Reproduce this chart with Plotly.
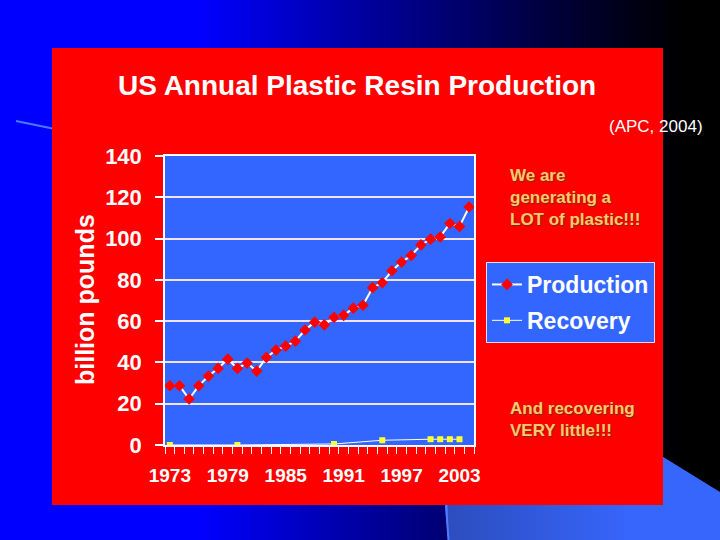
import plotly.graph_objects as go

# ---- data ----
years = list(range(1973, 2005))
production = [28.7, 28.7, 22.3, 28.7, 33.4, 37.1, 41.6, 37.1, 39.7, 35.8,
              42.4, 46.0, 47.9, 50.3, 55.7, 59.5, 58.2, 61.8, 62.8, 66.3,
              67.7, 76.2, 78.6, 84.4, 88.6, 91.8, 96.9, 99.7, 100.8, 107.3,
              105.9, 115.3]
recovery_years = [1973, 1980, 1990, 1995, 2000, 2001, 2002, 2003]
recovery_vals = [0.0, 0.0, 0.5, 2.3, 2.8, 2.8, 2.8, 2.8]
tick_years = [1973, 1979, 1985, 1991, 1997, 2003]
y_ticks = [0, 20, 40, 60, 80, 100, 120, 140]

W, H = 720, 540


def px(x):
    return x / W


def py(y):
    return 1 - y / H


fig = go.Figure()
fig.add_trace(go.Scatter(
    x=years, y=production, name="Production", mode="lines+markers",
    line=dict(color="white", width=2),
    marker=dict(symbol="diamond", color="#FF0000", size=9),
    legendgroup="a",
))
fig.add_trace(go.Scatter(
    x=recovery_years, y=recovery_vals, name="Recovery", mode="lines+markers",
    line=dict(color="white", width=1), connectgaps=True,
    marker=dict(symbol="square", color="#FFFF33", size=6),
    legendgroup="b",
))

shapes = []
# slide background: horizontal blue -> black gradient
for i in range(72):
    x0 = i * 10
    xc = x0 + 5
    if xc < 200:
        b = 255
    else:
        t = min(1.0, (xc - 200) / 490)
        b = int(255 * (1 - t) ** 1.15)
    shapes.append(dict(type="rect", xref="paper", yref="paper",
                       x0=px(x0), x1=px(min(720, x0 + 10.5)), y0=0, y1=1,
                       fillcolor=f"rgb(0,0,{b})", line=dict(width=0), layer="below"))
# lighter blue decorative shape bottom right
shapes.append(dict(type="path", xref="paper", yref="paper", layer="below",
                   path=(f"M {px(448)},{py(540)} L {px(445)},{py(505)} L {px(445)},{py(418)} "
                         f"L {px(600)},{py(418)} L {px(720)},{py(492)} L {px(720)},{py(540)} Z"),
                   fillcolor="rgb(55,102,252)", line=dict(width=0)))
# gradient on the bottom band of that shape
for i in range(24):
    x0 = 448 + i * 8
    t = min(1.0, i / 22)
    r = int(45 + 10 * t)
    g = int(78 + 24 * t)
    b = int(192 + 60 * t)
    shapes.append(dict(type="rect", xref="paper", yref="paper", layer="below",
                       x0=px(x0), x1=px(x0 + 8.5), y0=0, y1=py(505),
                       fillcolor=f"rgb({r},{g},{b})", line=dict(width=0)))
shapes.append(dict(type="line", xref="paper", yref="paper", layer="below",
                   x0=px(446), y0=py(505), x1=px(448.5), y1=0,
                   line=dict(color="#4d7cff", width=2)))
# thin line at left
shapes.append(dict(type="line", xref="paper", yref="paper", layer="below",
                   x0=px(16), y0=py(121), x1=px(55), y1=py(129),
                   line=dict(color="#4a78ff", width=2)))
# red panel
shapes.append(dict(type="rect", xref="paper", yref="paper", layer="below",
                   x0=px(52), x1=px(663), y0=py(505), y1=py(48),
                   fillcolor="#FF0000", line=dict(width=0)))
# plot area fill
shapes.append(dict(type="rect", xref="x domain", yref="y domain", layer="below",
                   x0=0, x1=1, y0=0, y1=1, fillcolor="#3366FF", line=dict(width=0)))

orange = "#FFC870"
shadow = "1px 1px 1px #7a2a00"
annotations = [
    dict(text="US Annual Plastic Resin Production", xref="paper", yref="paper",
         x=px(357), y=py(86), xanchor="center", yanchor="middle", showarrow=False,
         font=dict(family="Liberation Sans", size=28, color="white", weight="bold")),
    dict(text="(APC, 2004)", xref="paper", yref="paper",
         x=px(656), y=py(126), xanchor="center", yanchor="middle", showarrow=False,
         font=dict(family="Liberation Sans", size=17, color="white")),
    dict(text="billion pounds", xref="paper", yref="paper", textangle=-90,
         x=px(85), y=py(300), xanchor="center", yanchor="middle", showarrow=False,
         font=dict(family="Liberation Sans", size=25, color="white", weight="bold")),
    dict(text="We are<br>generating a<br>LOT of plastic!!!", xref="paper", yref="paper",
         x=px(508), y=py(164), xanchor="left", yanchor="top", align="left", showarrow=False,
         font=dict(family="Liberation Sans", size=17, color=orange, weight="bold", shadow=shadow)),
    dict(text="And recovering<br>VERY little!!!", xref="paper", yref="paper",
         x=px(508), y=py(397), xanchor="left", yanchor="top", align="left", showarrow=False,
         font=dict(family="Liberation Sans", size=17, color=orange, weight="bold", shadow=shadow)),
]

fig.update_layout(
    width=W, height=H, margin=dict(l=0, r=0, t=0, b=0, autoexpand=False),
    paper_bgcolor="#0000FF", plot_bgcolor="rgba(0,0,0,0)",
    shapes=shapes, annotations=annotations,
    showlegend=True,
    legend=dict(x=px(486), y=py(262), xanchor="left", yanchor="top",
                bgcolor="#3366FF", bordercolor="#EED8F0", borderwidth=1,
                font=dict(family="Liberation Sans", size=23, color="white", weight="bold"),
                itemwidth=30, tracegroupgap=3),
    xaxis=dict(domain=[px(165), px(474)], range=[1972.5, 2004.5], automargin=False,
               tickmode="array", tickvals=tick_years, ticktext=[str(t) for t in tick_years],
               ticks="", showgrid=False, zeroline=False,
               showline=True, linecolor="white", linewidth=1.5, mirror=True,
               tickfont=dict(family="Liberation Sans", size=19,
                             color="white", weight="bold"),
               ticklabelstandoff=12,
               minor=dict(tickmode="linear", tick0=1972.5, dtick=1, ticks="outside",
                          ticklen=7, tickcolor="white", tickwidth=1, showgrid=False)),
    yaxis=dict(domain=[py(445), py(156)], range=[0, 140], automargin=False,
               tickmode="array", tickvals=y_ticks,
               ticks="outside", ticklen=8, tickcolor="white", tickwidth=1.5,
               showgrid=True, gridcolor="#F2E4F2", gridwidth=1.5, zeroline=False,
               showline=True, linecolor="white", linewidth=1.5, mirror=True,
               tickfont=dict(family="Liberation Sans", size=22, color="white", weight="bold"),
               ticklabelstandoff=9),
)

fig.write_html("out.html", config={"displayModeBar": False},
               post_script="document.body.style.margin='0px';document.body.style.overflow='hidden';")
